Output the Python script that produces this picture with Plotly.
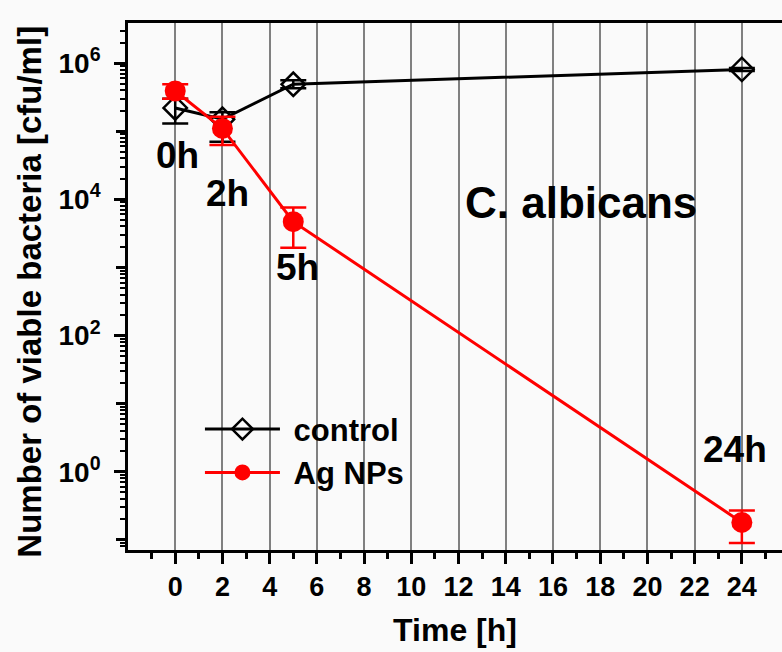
import plotly.graph_objects as go

# ---- data ----
time_h = [0, 2, 5, 24]
control_vals = [2.2e5, 1.5e5, 4.9e5, 8.1e5]
control_err_plus = [0.8e5, 0.4e5, 0.7e5, 0.4e5]
control_err_minus = [0.9e5, 0.8e5, 0.6e5, 0.4e5]
agnp_vals = [3.9e5, 1.1e5, 4.7e3, 0.18]
agnp_err_plus = [1.0e5, 0.53e5, 2.9e3, 0.09]
agnp_err_minus = [0.9e5, 0.47e5, 2.75e3, 0.09]

label_texts = ["0h", "2h", "5h", "24h"]
label_x = [0.1, 2.2, 5.2, 23.7]
label_logy = [4.64, 4.08, 3.0, 0.32]

species = "C. albicans"
y_title = "Number of viable bacteria [cfu/ml]"

x_ticks = list(range(0, 25, 2))
x_minor = list(range(-1, 26, 2))
y_label_exp = [0, 2, 4, 6]
y_odd_exp = [-1, 1, 3, 5]

FONT = "Liberation Sans, Arial, sans-serif"
BG = "#fafafa"

fig = go.Figure()

fig.add_trace(go.Scatter(
    x=time_h, y=control_vals, name="<b>&nbsp;control</b>", mode="lines+markers",
    line=dict(color="black", width=3),
    marker=dict(symbol="diamond-open", size=18, color="black", line=dict(width=2.5, color="black")),
    error_y=dict(type="data", symmetric=False, array=control_err_plus, arrayminus=control_err_minus,
                 color="black", thickness=2.5, width=13),
))
fig.add_trace(go.Scatter(
    x=time_h, y=agnp_vals, name="<b>&nbsp;Ag NPs</b>", mode="lines+markers",
    line=dict(color="#ff0000", width=3),
    marker=dict(symbol="circle", size=21, color="#ff0000"),
    error_y=dict(type="data", symmetric=False, array=agnp_err_plus, arrayminus=agnp_err_minus,
                 color="#ff0000", thickness=2.5, width=13),
))

for t, x, ly in zip(label_texts, label_x, label_logy):
    fig.add_annotation(x=x, y=ly, text="<b>%s</b>" % t, showarrow=False,
                       font=dict(size=37, color="black", family=FONT))
fig.add_annotation(x=17.2, y=3.96, text="<b>%s</b>" % species, showarrow=False,
                   font=dict(size=44, color="black", family=FONT))

# y axis title as a rotated annotation
fig.add_annotation(xref="paper", yref="paper", x=-0.15, y=0.49, xanchor="center", yanchor="middle",
                   textangle=-90, text="<b>%s</b>" % y_title, showarrow=False,
                   font=dict(size=33, color="black", family=FONT))

fig.update_xaxes(
    range=[-2, 25.7], tickmode="array", tickvals=x_ticks,
    ticktext=["<b>%d</b>" % v for v in x_ticks],
    ticks="outside", ticklen=11, tickwidth=2.5, tickcolor="black",
    showline=True, linecolor="black", linewidth=3, mirror=True,
    showgrid=True, gridcolor="#808080", gridwidth=1.5, zeroline=False,
    minor=dict(tickmode="array", tickvals=x_minor, ticks="outside", ticklen=6,
               tickwidth=2.5, tickcolor="black", showgrid=False),
    tickfont=dict(size=27, color="black", family=FONT),
    title=dict(text="<b>Time [h]</b>", font=dict(size=32, color="black", family=FONT), standoff=18),
)

y_minor = [k * 10.0 ** e for e in range(-2, 7) for k in range(2, 10)]
fig.update_yaxes(
    type="log", range=[-1.15, 6.59], tickmode="array",
    tickvals=[10.0 ** e for e in y_label_exp],
    ticktext=["<b>10<sup>%d</sup></b>&nbsp;" % e for e in y_label_exp],
    ticks="outside", ticklen=11, tickwidth=2.5, tickcolor="black",
    showline=True, linecolor="black", linewidth=3, mirror=False,
    showgrid=False, zeroline=False,
    minor=dict(tickmode="array", tickvals=y_minor, ticks="outside", ticklen=5,
               tickwidth=2, tickcolor="black", showgrid=False),
    tickfont=dict(size=28, color="black", family=FONT),
)

# odd-decade long ticks without labels
fig.update_layout(
    yaxis2=dict(
        type="log", range=[-1.15, 6.59], overlaying="y", side="left", anchor="x",
        tickmode="array", tickvals=[10.0 ** e for e in y_odd_exp],
        ticks="outside", ticklen=11, tickwidth=2.5, tickcolor="black",
        showticklabels=False, showgrid=False, showline=False, zeroline=False,
    )
)
fig.add_trace(go.Scatter(x=[None], y=[None], yaxis="y2", showlegend=False, hoverinfo="skip"))

fig.update_layout(
    width=782, height=652,
    margin=dict(l=128, r=0, t=23, b=102),
    paper_bgcolor=BG, plot_bgcolor=BG,
    showlegend=True,
    legend=dict(x=0.11, y=0.28, xanchor="left", yanchor="top",
                bgcolor="rgba(0,0,0,0)", font=dict(size=31, color="black", family=FONT),
                itemwidth=75, tracegroupgap=0),
)

fig.write_html("out.html")
